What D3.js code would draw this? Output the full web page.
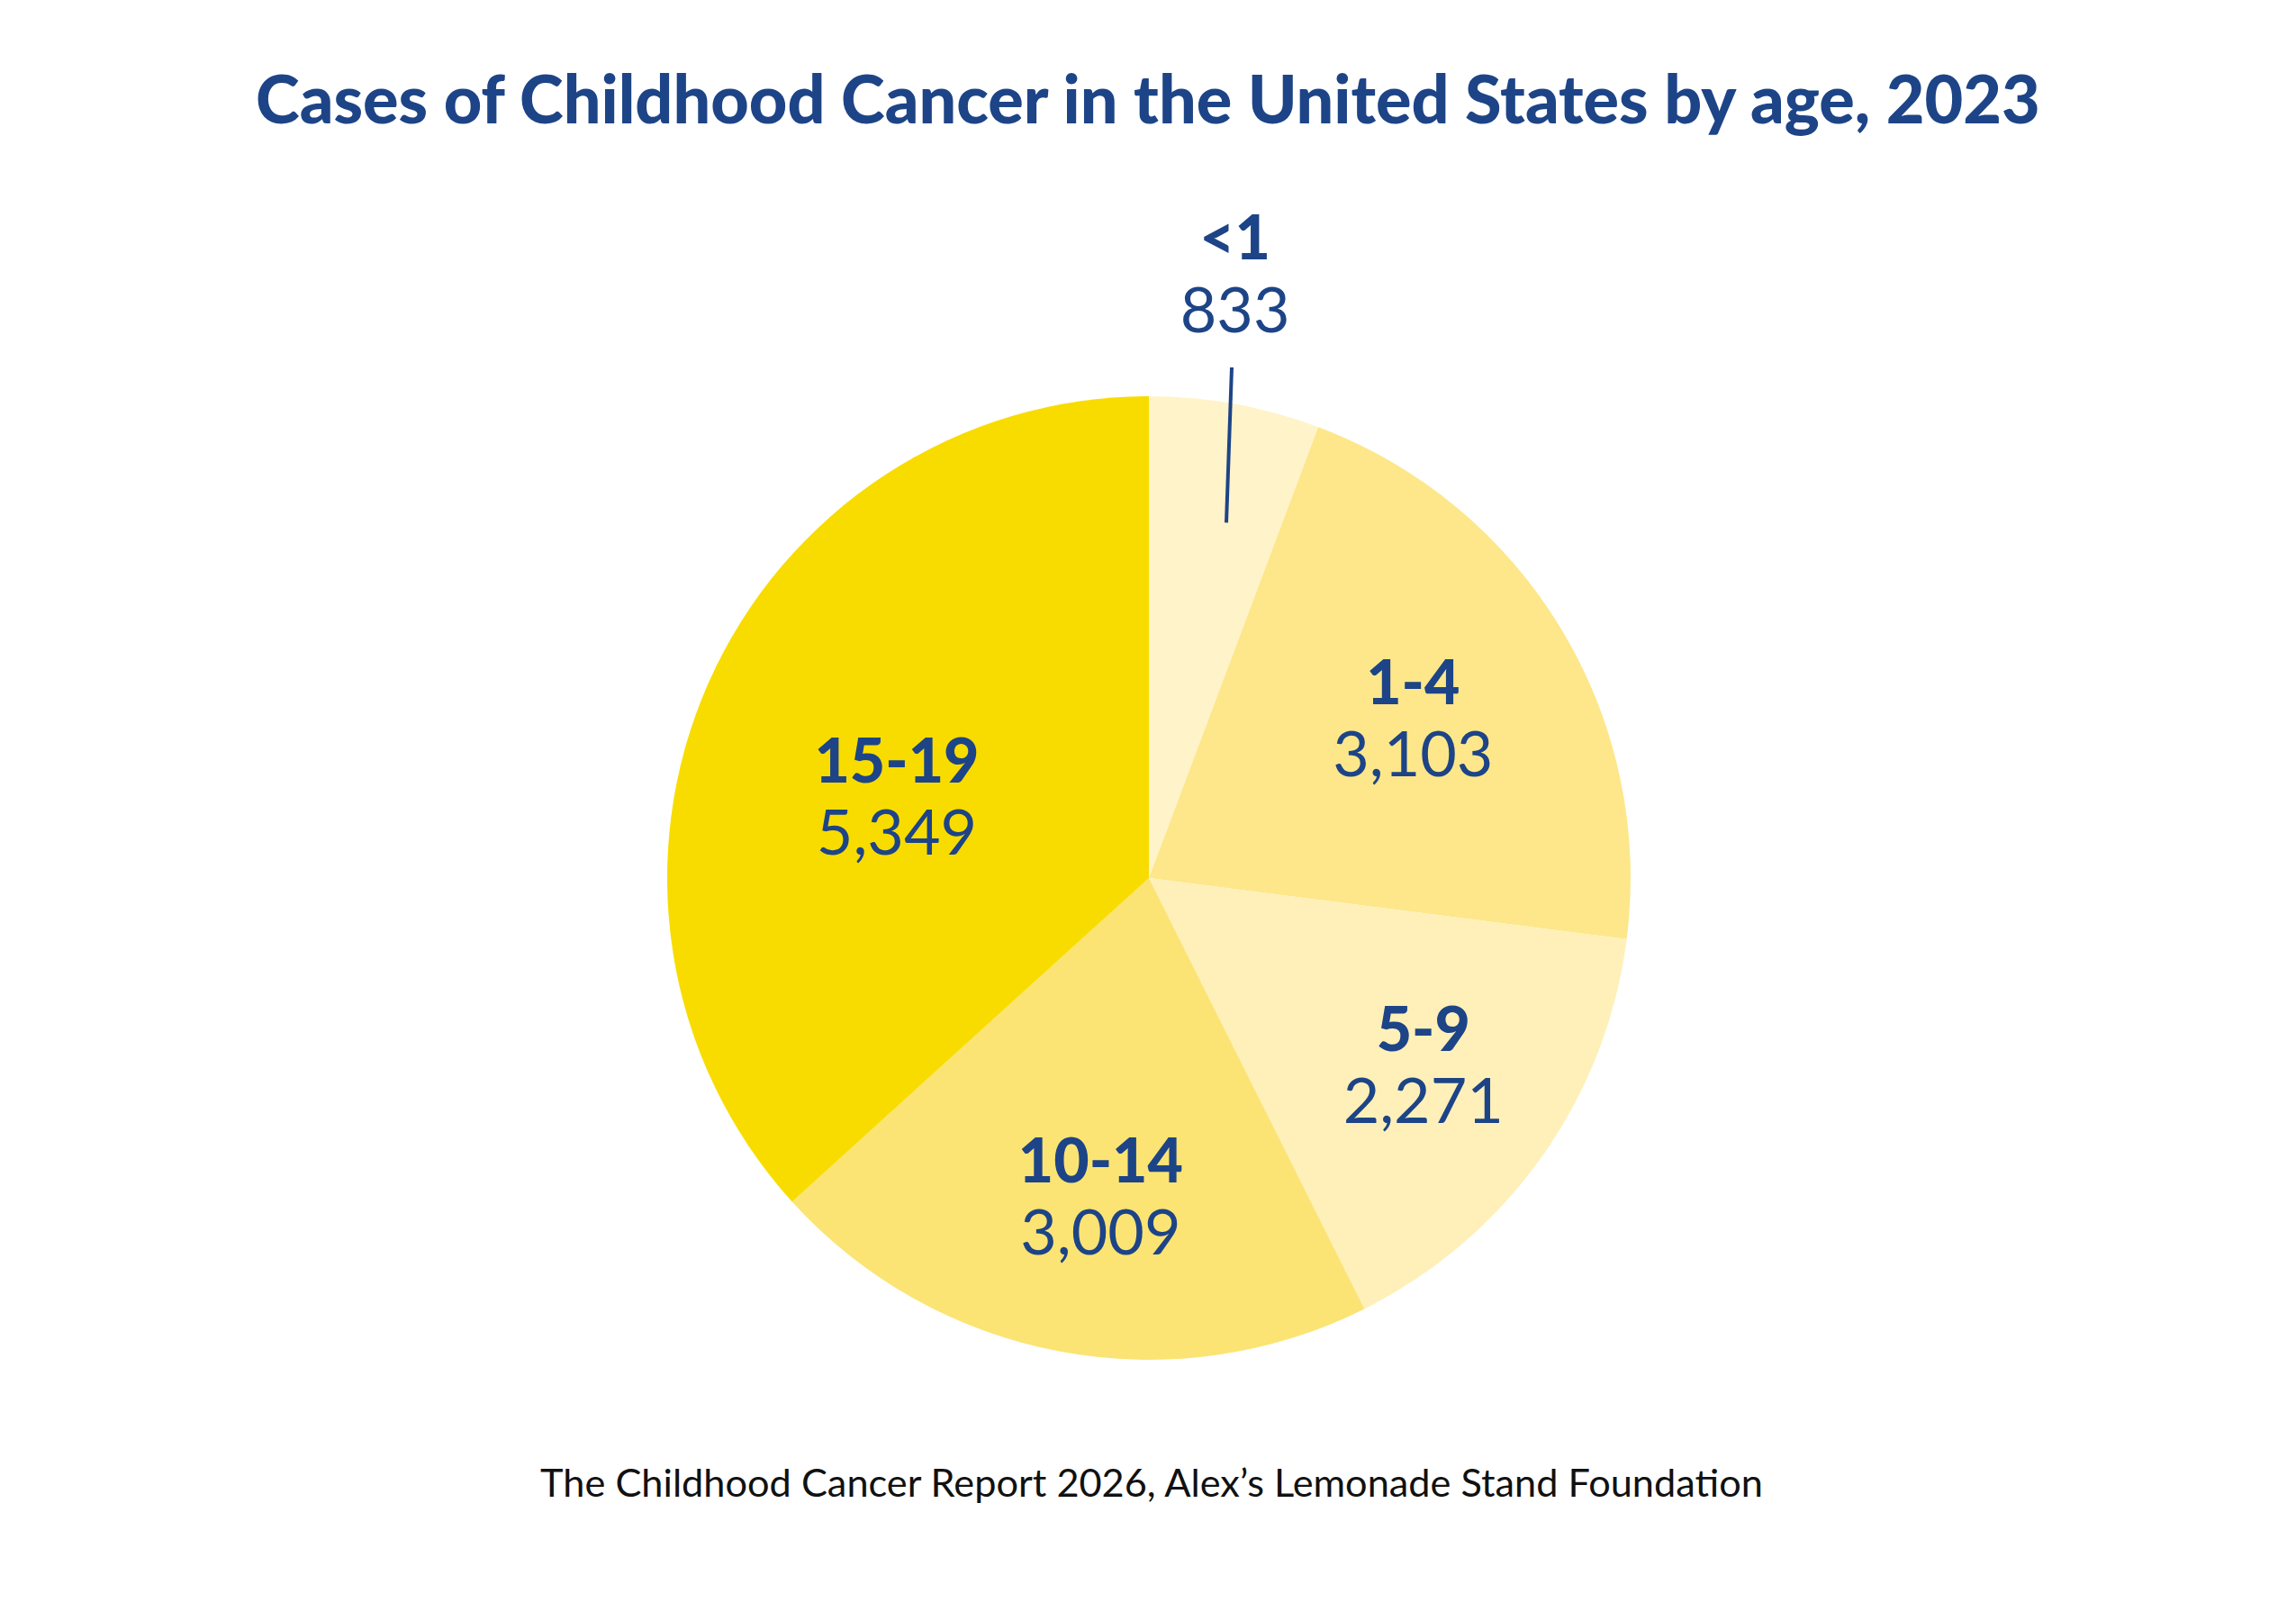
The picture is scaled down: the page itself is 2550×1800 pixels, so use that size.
<!DOCTYPE html>
<html>
<head>
<meta charset="utf-8">
<script src="https://cdn.jsdelivr.net/npm/d3@7"></script>
<style>
  body { margin: 0; background: #fff; }
  svg { display: block; }
</style>
</head>
<body>
<svg></svg>
<script>
// age groups, counts and slice colours
var ages = ["<1", "1-4", "5-9", "10-14", "15-19"]
var cases = [833, 3103, 2271, 3009, 5349]
var colors = ["#FFF3C9", "#FDE78A", "#FEF0B8", "#FBE473", "#F8DC00"]

var title = "Cases of Childhood Cancer in the United States by age, 2023"
var source = "The Childhood Cancer Report 2026, Alex\u2019s Lemonade Stand Foundation"

var screen = {width: 2550, height: 1800}
var navy = "#1D4487"
var center = {x: 1276, y: 975}
var radius = 535

// label placement per slice: [radius factor, angle nudge in degrees]
var labelPlace = [[0, 0], [0.64, 0], [0.69, -1], [0.67, -2], [0.55, -6]]

var fmt = d3.format(",")

var svg = d3.select("svg")
    .attr("width", screen.width)
    .attr("height", screen.height)

// fit a text element to a target width
var fitWidth = function(sel, target)
{
    var size = parseFloat(sel.attr("font-size"))
    var w = sel.node().getComputedTextLength()
    sel.attr("font-size", size * target / w)
}

var t = svg.append("text")
    .attr("x", screen.width / 2)
    .attr("y", 137)
    .attr("text-anchor", "middle")
    .attr("font-family", "Lato")
    .attr("font-weight", 900)
    .attr("font-size", 70)
    .attr("fill", navy)
    .text(title)
fitWidth(t, 1982)

var s = svg.append("text")
    .attr("x", screen.width / 2 + 4)
    .attr("y", 1662)
    .attr("text-anchor", "middle")
    .attr("font-family", "Lato")
    .attr("font-size", 46)
    .attr("fill", "#111")
    .text(source)
fitWidth(s, 1358)

var pie = d3.pie().sort(null).value(function(d){ return d.value })
var slices = pie(ages.map(function(a, i){ return {age: a, value: cases[i], i: i} }))

var arc = d3.arc().innerRadius(0).outerRadius(radius)

var g = svg.append("g")
    .attr("transform", "translate(" + center.x + "," + center.y + ")")

g.selectAll("path")
    .data(slices)
    .enter()
    .append("path")
    .attr("d", arc)
    .attr("fill", function(d){ return colors[d.data.i] })

var polar = function(r, ang)
{
    return [r * Math.sin(ang), -r * Math.cos(ang)]
}

var labels = g.selectAll("g.lab")
    .data(slices)
    .enter()
    .append("g")
    .attr("class", "lab")
    .attr("transform", function(d)
    {
        var mid = (d.startAngle + d.endAngle) / 2
        var p
        if (d.data.i == 0)
        {
            // outside label above the thin slice
            p = polar(radius, mid)
            return "translate(" + p[0] + "," + (-radius) + ")"
        }
        var lp = labelPlace[d.data.i]
        p = polar(radius * lp[0], mid + lp[1] * Math.PI / 180)
        return "translate(" + p[0] + "," + p[1] + ")"
    })

labels.append("text")
    .attr("text-anchor", "middle")
    .attr("y", function(d){ return d.data.i == 0 ? -152 : -16 })
    .attr("font-family", "Lato")
    .attr("font-weight", 900)
    .attr("font-size", 68)
    .attr("fill", navy)
    .text(function(d){ return d.data.age })

labels.append("text")
    .attr("text-anchor", "middle")
    .attr("y", function(d){ return d.data.i == 0 ? -71 : 64 })
    .attr("font-family", "Lato")
    .attr("font-weight", 400)
    .attr("font-size", 70)
    .attr("fill", navy)
    .text(function(d){ return fmt(d.data.value) })

// leader line for the <1 slice
var first = slices[0]
var fmid = (first.startAngle + first.endAngle) / 2
var inner = polar(radius * 0.755, fmid + 2 * Math.PI / 180)
g.append("line")
    .attr("x1", inner[0] + 6)
    .attr("y1", -radius - 32)
    .attr("x2", inner[0])
    .attr("y2", inner[1])
    .attr("stroke", navy)
    .attr("stroke-width", 4)
</script>
</body>
</html>
